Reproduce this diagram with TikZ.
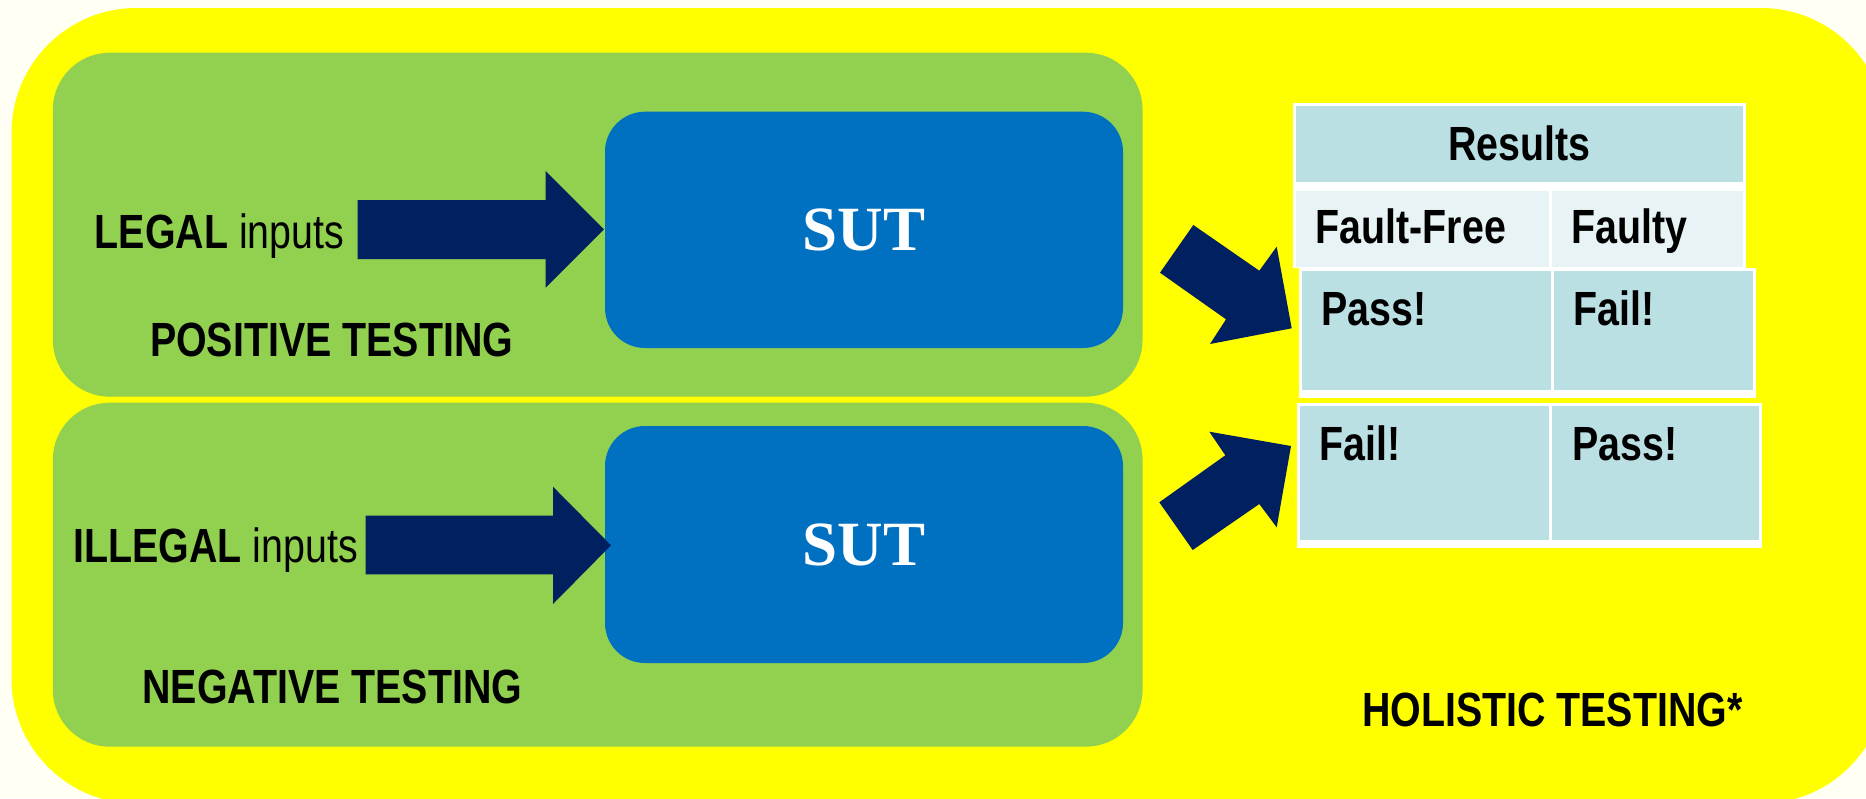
\documentclass[tikz,border=0pt]{standalone}
\usepackage{fontspec}
\newfontfamily\narrowfont[FakeStretch=0.82]{Liberation Sans}
\newfontfamily\sutfont{Liberation Serif}
\definecolor{yel}{HTML}{FFFF00}
\definecolor{grn}{HTML}{92D050}
\definecolor{blu}{HTML}{0070C0}
\definecolor{navy}{HTML}{002060}
\definecolor{cellA}{HTML}{BBE0E3}
\definecolor{cellB}{HTML}{E7F3F5}
\definecolor{bgc}{HTML}{FFFFF4}
\begin{document}
\begin{tikzpicture}[x=1pt,y=-1pt,
  greenbox/.style={rectangle, fill=grn, rounded corners=57pt, anchor=north west, inner sep=0, outer sep=0},
  sutbox/.style={rectangle, fill=blu, rounded corners=40pt, anchor=north west, inner sep=0, outer sep=0,
     text=white, font=\sutfont\bfseries\fontsize{63}{70}\selectfont},
  cellbox/.style={rectangle, anchor=north west, inner sep=0, outer sep=0},
  lbl/.style={font=\narrowfont\fontsize{48}{56}\selectfont, inner sep=0, outer sep=0, anchor=base west},
  bigarrow/.style={fill=navy}]
\useasboundingbox (0,0) rectangle (1866,798);
\fill[bgc] (0,0) rectangle (1866,798);
\begin{scope}
  \clip (0,0) rectangle (1866,798);
  \fill[yel, rounded corners=125pt] (11.5,8) rectangle (1886,803.6);
\end{scope}

% green panels
\node[greenbox, minimum width=1089.8pt, minimum height=344pt] (pos) at (52.8,52.7) {};
\node[greenbox, minimum width=1089.8pt, minimum height=344pt] (neg) at (52.8,402.7) {};

% SUT boxes
\node[sutbox, minimum width=518pt, minimum height=236.3pt] (sut1) at (605,111.7) {};
\node[text=white, font=\sutfont\bfseries\fontsize{63}{70}\selectfont, inner sep=0] (sutt1) at (sut1.center) {SUT};
\node[sutbox, minimum width=518pt, minimum height=237pt] (sut2) at (605,426) {};
\node[text=white, font=\sutfont\bfseries\fontsize{63}{70}\selectfont, inner sep=0] (sutt2) at (sut2.center) {SUT};

% labels
\node[lbl] (legal) at (94.9,248.3) {\bfseries LEGAL\mdseries\ inputs};
\node[lbl] (postest) at (150,356.7) {\bfseries POSITIVE TESTING};
\node[lbl] (illegal) at (73.5,562.3) {\bfseries ILLEGAL\mdseries\ inputs};
\node[lbl] (negtest) at (142.4,703.3) {\bfseries NEGATIVE TESTING};
\node[lbl] (holtest) at (1362,726) {\bfseries HOLISTIC TESTING*};

% horizontal block arrows
\fill[bigarrow] (357.7,200) -- (545.7,200) -- (545.7,171) -- (604,229.3) -- (545.7,287.7) -- (545.7,259) -- (357.7,259) -- cycle;
\fill[bigarrow] (365.5,515.7) -- (553,515.7) -- (553,486.7) -- (611,545.3) -- (553,604) -- (553,574.3) -- (365.5,574.3) -- cycle;

% diagonal block arrows
\fill[bigarrow] (1193.3,225) -- (1259.3,270.7) -- (1276.7,246.7) -- (1291.7,328.3) -- (1210,344) -- (1226,319.3) -- (1160,272.7) -- cycle;
\fill[bigarrow] (1159.3,502.3) -- (1225.3,455.3) -- (1209.3,431.7) -- (1291,446) -- (1276.7,527.3) -- (1259.3,504) -- (1192.7,550) -- cycle;

% results table
\node[cellbox, fill=white, minimum width=452.7pt, minimum height=164.7pt] (frameA) at (1293.3,103.3) {};
\node[cellbox, fill=cellA, minimum width=447.3pt, minimum height=76.3pt] (hdr) at (1296,106) {};
\node[cellbox, fill=cellB, minimum width=253.3pt, minimum height=75.7pt] (ffc) at (1296,191) {};
\node[cellbox, fill=cellB, minimum width=191pt, minimum height=75.7pt] (fyc) at (1552.3,191) {};
\node[cellbox, fill=white, minimum width=456.7pt, minimum height=130pt] (frameB) at (1299,267.7) {};
\node[cellbox, fill=cellA, minimum width=249.3pt, minimum height=119pt] (p1c) at (1301.7,270.7) {};
\node[cellbox, fill=cellA, minimum width=198.7pt, minimum height=119pt] (f1c) at (1554,270.7) {};
\node[cellbox, fill=white, minimum width=464.4pt, minimum height=145pt] (frameC) at (1297.3,403.3) {};
\node[cellbox, fill=cellA, minimum width=249.3pt, minimum height=134pt] (f2c) at (1300,406) {};
\node[cellbox, fill=cellA, minimum width=206.7pt, minimum height=134pt] (p2c) at (1552.3,406) {};

\node[lbl, anchor=base] (results) at (1519.3,160.7) {\bfseries Results};
\node[lbl] (ff) at (1315.7,243.3) {\bfseries Fault-Free};
\node[lbl] (fy) at (1571.7,243.3) {\bfseries Faulty};
\node[lbl] (p1) at (1321.7,325.7) {\bfseries Pass!};
\node[lbl] (f1) at (1573.7,325.7) {\bfseries Fail!};
\node[lbl] (f2) at (1319.3,460.7) {\bfseries Fail!};
\node[lbl] (p2) at (1572.3,460.7) {\bfseries Pass!};
\end{tikzpicture}
\end{document}
